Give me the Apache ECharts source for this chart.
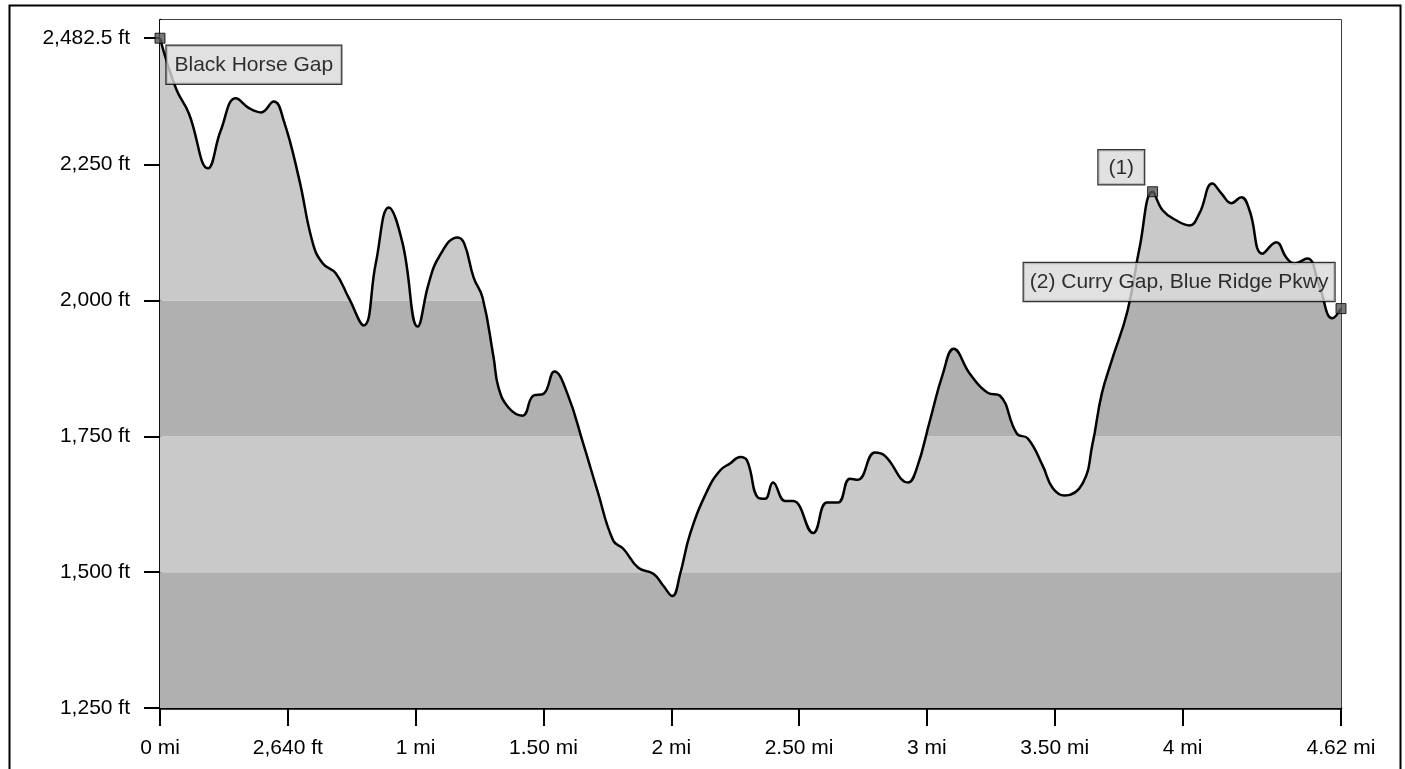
<!DOCTYPE html>
<html>
<head>
<meta charset="utf-8">
<script src="https://cdn.jsdelivr.net/npm/echarts@6/dist/echarts.min.js"></script>
<style>
  html, body { margin: 0; padding: 0; background: #fff; }
  #chart { width: 1405px; height: 769px; }
</style>
</head>
<body>
<div id="chart"></div>
<script>
// ---- Data ----
const profileMiles = [0, 0.0625, 0.113, 0.1875, 0.238, 0.297, 0.348, 0.395, 0.445, 0.484, 0.543, 0.598, 0.637, 0.6875, 0.738, 0.797, 0.844, 0.895, 0.949, 1.008, 1.051, 1.09, 1.164, 1.19, 1.227, 1.262, 1.305, 1.324, 1.363, 1.418, 1.461, 1.5, 1.543, 1.594, 1.656, 1.711, 1.773, 1.8125, 1.871, 1.93, 1.969, 2.004, 2.035, 2.074, 2.141, 2.191, 2.23, 2.27, 2.297, 2.34, 2.367, 2.398, 2.445, 2.477, 2.555, 2.609, 2.652, 2.699, 2.73, 2.797, 2.836, 2.926, 2.961, 3.012, 3.0625, 3.105, 3.168, 3.238, 3.285, 3.352, 3.395, 3.453, 3.492, 3.539, 3.609, 3.648, 3.684, 3.723, 3.785, 3.832, 3.883, 3.922, 3.977, 4.027, 4.066, 4.117, 4.152, 4.191, 4.23, 4.262, 4.3125, 4.367, 4.406, 4.4375, 4.488, 4.535, 4.586, 4.62];
const profileFeet  = [2482.5, 2390, 2344, 2243, 2313, 2372, 2354, 2346, 2366, 2331, 2226, 2105, 2068, 2050, 2005, 1954, 2068, 2171, 2105, 1952, 2031, 2079, 2116, 2105, 2042, 2005, 1895, 1840, 1803, 1788, 1825, 1828, 1869, 1828, 1736, 1650, 1558, 1543, 1508, 1497, 1475, 1456, 1497, 1571, 1650, 1687, 1700, 1712, 1705, 1637, 1635, 1665, 1631, 1631, 1572, 1628, 1628, 1672, 1670, 1720, 1714, 1665, 1692, 1779, 1865, 1911, 1865, 1830, 1825, 1755, 1746, 1696, 1655, 1641, 1663, 1736, 1828, 1889, 1981, 2097, 2200, 2166, 2147, 2138, 2160, 2215, 2197, 2179, 2190, 2166, 2086, 2107, 2079, 2068, 2077, 2027, 1967, 1985];

const waypointNames = ['Black Horse Gap', '(1)', '(2) Curry Gap, Blue Ridge Pkwy'];
const waypointMiles = [0, 3.883, 4.62];
const waypointFeet  = [2482.5, 2200, 1985];

const xTickValues = [0, 0.5, 1, 1.5, 2, 2.5, 3, 3.5, 4, 4.62];
const xTickLabels = ['0 mi', '2,640 ft', '1 mi', '1.50 mi', '2 mi', '2.50 mi', '3 mi', '3.50 mi', '4 mi', '4.62 mi'];
const yTickValues = [1250, 1500, 1750, 2000, 2250, 2482.5];
const yTickLabels = ['1,250 ft', '1,500 ft', '1,750 ft', '2,000 ft', '2,250 ft', '2,482.5 ft'];

const bandEdges  = [1250, 1500, 1750, 2000, 2516];
// ---- Chart ----
const FONT = '"Liberation Sans", Arial, sans-serif';
const lineData = profileMiles.map((m, i) => [m, profileFeet[i]]);
const darkBand = '#b0b0b0', lightBand = '#c9c9c9';
const bands = [];
for (let i = 0; i < bandEdges.length - 1; i++) {
  bands.push([{ yAxis: bandEdges[i], itemStyle: { color: i % 2 === 0 ? darkBand : lightBand } }, { yAxis: bandEdges[i + 1] }]);
}
const labelStyles = [
  { align: 'left', verticalAlign: 'top', position: [12, 13], padding: [8, 8, 7, 8] },
  { align: 'right', verticalAlign: 'bottom', position: [-3, -2], padding: [6, 10, 5, 10] },
  { align: 'right', verticalAlign: 'bottom', position: [-1, -2], padding: [8, 6, 7, 6] }
];
const wpData = waypointNames.map((n, i) => ({
  name: n,
  value: [waypointMiles[i], waypointFeet[i]],
  label: Object.assign({
    show: true, formatter: '{b}', color: '#000', fontFamily: FONT, fontSize: 21,
    backgroundColor: '#d9d9d9', borderColor: '#000', borderWidth: 1.2, lineHeight: 23
  }, labelStyles[i])
}));

const chart = echarts.init(document.getElementById('chart'), null, { renderer: 'canvas' });
chart.setOption({
  animation: false,
  backgroundColor: '#fff',
  grid: { left: 160, right: 64, top: 20, bottom: 61, containLabel: false, show: true, borderColor: '#000', borderWidth: 1.5, backgroundColor: 'transparent' },
  xAxis: {
    type: 'value', min: 0, max: 4.62,
    axisLine: { show: true, lineStyle: { color: '#000', width: 2.5 } },
    axisTick: { show: true, customValues: xTickValues, length: 18, lineStyle: { color: '#000', width: 2 } },
    axisLabel: {
      customValues: xTickValues, margin: 30, color: '#000', fontFamily: FONT, fontSize: 21,
      formatter: v => { const i = xTickValues.findIndex(t => Math.abs(t - v) < 1e-6); return i >= 0 ? xTickLabels[i] : ''; }
    },
    splitLine: { show: false }
  },
  yAxis: {
    type: 'value', min: 1250, max: 2516,
    axisLine: { show: true, lineStyle: { color: '#000', width: 2.5 } },
    axisTick: { show: true, customValues: yTickValues, length: 16, lineStyle: { color: '#000', width: 2 } },
    axisLabel: {
      customValues: yTickValues, margin: 30, color: '#000', fontFamily: FONT, fontSize: 21,
      formatter: v => { const i = yTickValues.findIndex(t => Math.abs(t - v) < 1e-6); return i >= 0 ? yTickLabels[i] : ''; }
    },
    splitLine: { show: false }
  },
  series: [
    {
      type: 'line', z: 1, data: [[0, 1250]], showSymbol: false, silent: true,
      lineStyle: { opacity: 0 },
      markArea: { silent: true, data: bands }
    },
    {
      type: 'line', z: 2, data: lineData, showSymbol: false, smooth: 0.45,
      lineStyle: { color: '#000', width: 2.5 },
      areaStyle: { color: '#ffffff', opacity: 1, origin: 'end' }
    },
    {
      type: 'scatter', z: 5, data: wpData, symbol: 'rect', symbolSize: 10,
      itemStyle: { color: '#555', borderColor: '#000', borderWidth: 1 }
    }
  ],
  graphic: [
    { type: 'rect', left: 7, top: 3, shape: { x: 0, y: 0, width: 1391, height: 800 }, style: { fill: null, stroke: '#000', lineWidth: 2 }, silent: true }
  ]
});
</script>
</body>
</html>
